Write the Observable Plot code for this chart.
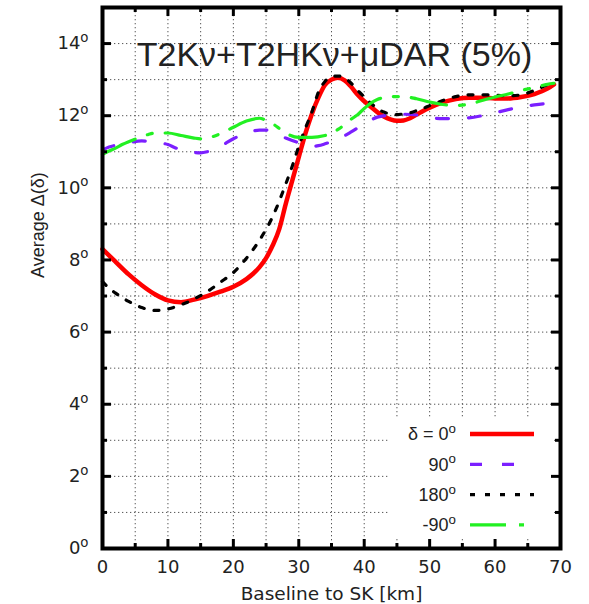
<!DOCTYPE html>
<html><head><meta charset="utf-8">
<script src="https://cdn.jsdelivr.net/npm/d3@7"></script>
<script src="https://cdn.jsdelivr.net/npm/@observablehq/plot@0.6"></script>
<style>
body{margin:0;background:#fff}
#chart svg{font-family:"Liberation Sans",Arial,sans-serif}
</style>
</head><body><div id="chart"></div>
<script>
// ---- data ----
const titleText = "T2Kν+T2HKν+μDAR (5%)";
const xLabel = "Baseline to SK [km]";
const yLabel = "Average Δ(δ)";
const xTicks = [0, 10, 20, 30, 40, 50, 60, 70];
const xMinor = [5, 15, 25, 35, 45, 55, 65];
const yTicks = [0, 2, 4, 6, 8, 10, 12, 14];
const yMinor = [1, 3, 5, 7, 9, 11, 13];
const xGrid = [5, 10, 15, 20, 25, 30, 35, 40, 45, 50, 55, 60, 65];
const yGrid = [1, 2, 3, 4, 5, 6, 7, 8, 9, 10, 11, 12, 13, 14];
const legendLabels = ["δ = 0", "90", "180", "-90"];

const redX = [0,2,4,6,8,10,12,14,16,18,20,22,24,25,26,27,28,29,30,31,32,33,34,35,36,37,38,39,40,41,42,43,44,45,46,47,48,49,50,52,54,56,58,60,62,64,66,68,69];
const redY = [8.3,7.95,7.6,7.3,7.05,6.88,6.83,6.9,7.0,7.12,7.26,7.47,7.8,8.05,8.4,8.85,9.55,10.2,10.85,11.5,12.05,12.5,12.85,13.0,13.05,12.98,12.8,12.58,12.4,12.25,12.1,11.98,11.9,11.86,11.87,11.93,12.03,12.13,12.22,12.37,12.46,12.5,12.5,12.48,12.48,12.52,12.6,12.75,12.87];

const blueX = [0,1,2,4,6,8,10,11,12,14,15,16,18,20,22,24,25,26,28,30,32,33,34,36,38,40,42,44,46,48,50,52,54,56,58,60,62,64,66,68,69];
const blueY = [11.05,11.13,11.18,11.25,11.3,11.26,11.2,11.12,11.05,10.98,10.97,11.0,11.15,11.36,11.52,11.6,11.6,11.55,11.38,11.25,11.15,11.17,11.22,11.35,11.55,11.78,11.96,12.02,12.04,12.02,11.95,11.92,11.92,11.94,12.0,12.08,12.17,12.24,12.3,12.34,12.35];

const blackX = [0,1,2,4,6,8,10,12,13,14,16,18,20,22,24,26,28,29,30,31,32,33,34,35,36,37,38,39,40,41,42,43,44,45,46,47,48,49,50,52,54,56,58,60,62,64,66,68,69];
const blackY = [7.4,7.22,7.08,6.85,6.68,6.6,6.64,6.76,6.83,6.92,7.12,7.38,7.65,8.05,8.55,9.2,10.1,10.6,11.15,11.65,12.1,12.65,12.95,13.08,13.1,13.05,12.9,12.7,12.52,12.35,12.2,12.1,12.05,12.03,12.05,12.08,12.14,12.2,12.28,12.42,12.53,12.58,12.58,12.57,12.55,12.58,12.7,12.86,12.93];

const greenX = [0,1,2,3,4,5,6,7,8,10,12,14,15,16,18,20,22,24,25,26,27,28,30,32,34,35,36,37,38,39,40,41,42,43,44,46,48,50,52,54,56,58,60,62,64,66,68,69];
const greenY = [10.93,11.02,11.1,11.2,11.28,11.35,11.42,11.48,11.52,11.52,11.45,11.38,11.36,11.38,11.5,11.68,11.85,11.93,11.87,11.78,11.65,11.52,11.4,11.4,11.45,11.5,11.62,11.75,11.9,12.03,12.2,12.35,12.45,12.5,12.53,12.53,12.47,12.38,12.31,12.28,12.32,12.42,12.52,12.6,12.7,12.78,12.87,12.9];

// ---- styles ----
const styles = [
  {stroke: "#ff0000", strokeWidth: 4.5, dash: null},
  {stroke: "#7b1fff", strokeWidth: 3.2, dash: "12,20"},
  {stroke: "#000000", strokeWidth: 3.2, dash: "5,10"},
  {stroke: "#22f022", strokeWidth: 3.2, dash: "36,13,5,13"}
];
const series = [[redX, redY], [blueX, blueY], [blackX, blackY], [greenX, greenY]];
const wideFont = "DejaVu Sans";

const W = 589, H = 604, mL = 102, mR = 29, mT = 7, mB = 56;
const fw = W - mL - mR, fh = H - mT - mB;

function legendMark(index, scales, values, dims) {
  const right = dims.width - dims.marginRight, bottom = dims.height - dims.marginBottom;
  const g = d3.create("svg:g").attr("aria-label", "legend");
  g.append("rect").attr("x", right - 172).attr("y", bottom - 130)
    .attr("width", 165).attr("height", 121).attr("fill", "white");
  legendLabels.forEach((lab, i) => {
    const y = bottom - 114 + i * 30.3;
    const s = styles[i];
    const t = g.append("text").attr("x", right - 104).attr("y", y)
      .attr("text-anchor", "end").attr("dy", "0.36em")
      .attr("font-size", 18).attr("fill", "#222");
    t.append("tspan").text(lab);
    t.append("tspan").attr("font-size", "0.74em").attr("dy", "-0.55em").text("o");
    g.append("line").attr("x1", right - 90).attr("x2", right - 26)
      .attr("y1", y).attr("y2", y)
      .attr("stroke", s.stroke).attr("stroke-width", s.strokeWidth)
      .attr("stroke-dasharray", s.dash);
  });
  return g.node();
}

const lineMarks = series.map(([xs, ys], i) => Plot.line(d3.zip(xs, ys), {
  x: d => d[0], y: d => d[1], curve: "monotone-x",
  stroke: styles[i].stroke, strokeWidth: styles[i].strokeWidth,
  strokeDasharray: styles[i].dash
}));

const chart = Plot.plot({
  width: W, height: H,
  marginLeft: mL, marginRight: mR, marginTop: mT, marginBottom: mB,
  x: {domain: [0, 70]},
  y: {domain: [0, 15]},
  style: {background: "white", color: "#222", overflow: "visible"},
  marks: [
    Plot.ruleX(xGrid, {stroke: "#555", strokeWidth: 1, strokeDasharray: "1.3,2.7"}),
    Plot.ruleY(yGrid, {stroke: "#555", strokeWidth: 1, strokeDasharray: "1.3,2.7"}),
    Plot.text([titleText], {text: d => d, frameAnchor: "top", lineAnchor: "top", dy: 34, dx: 3, fontSize: 34, fill: "#222", ariaLabel: "title"}),
    ...lineMarks,
    legendMark,
    // ticks (inward, mirrored)
    Plot.tickX(xTicks, {x: d => d, insetTop: fh - 9, stroke: "black", strokeWidth: 3}),
    Plot.tickX(xTicks, {x: d => d, insetBottom: fh - 9, stroke: "black", strokeWidth: 3}),
    Plot.tickX(xMinor, {x: d => d, insetTop: fh - 5, stroke: "black", strokeWidth: 3}),
    Plot.tickX(xMinor, {x: d => d, insetBottom: fh - 5, stroke: "black", strokeWidth: 3}),
    Plot.tickY(yTicks, {y: d => d, insetRight: fw - 9, stroke: "black", strokeWidth: 3}),
    Plot.tickY(yTicks, {y: d => d, insetLeft: fw - 9, stroke: "black", strokeWidth: 3}),
    Plot.tickY(yMinor, {y: d => d, insetRight: fw - 5, stroke: "black", strokeWidth: 3}),
    Plot.tickY(yMinor, {y: d => d, insetLeft: fw - 5, stroke: "black", strokeWidth: 3}),
    Plot.frame({stroke: "black", strokeWidth: 4}),
    Plot.axisX({ticks: xTicks, tickSize: 0, tickPadding: 12, fontSize: 18, fontFamily: wideFont, tickFormat: d => String(d), label: null}),
    Plot.axisY({ticks: yTicks, tickSize: 0, tickPadding: 14, fontSize: 18, fontFamily: wideFont, tickFormat: d => String(d), label: null}),
    Plot.text([xLabel], {text: d => d, frameAnchor: "bottom", lineAnchor: "bottom", dy: 51, fontSize: 18.5, fontFamily: wideFont, fill: "#222", ariaLabel: "xlabel"}),
    Plot.text([yLabel], {text: d => d, frameAnchor: "left", dx: -64, rotate: -90, fontSize: 18, fill: "#222", ariaLabel: "ylabel"})
  ]
});

document.getElementById("chart").appendChild(chart);

// superscript "o" on y tick labels
chart.querySelectorAll('[aria-label="y-axis tick label"] text').forEach(t => {
  const v = t.textContent;
  t.textContent = "";
  const a = document.createElementNS("http://www.w3.org/2000/svg", "tspan");
  a.textContent = v;
  const b = document.createElementNS("http://www.w3.org/2000/svg", "tspan");
  b.textContent = "o";
  b.setAttribute("font-size", "0.74em");
  b.setAttribute("dy", "-0.55em");
  t.appendChild(a); t.appendChild(b);
});
// white box behind the title
const tg = chart.querySelector('[aria-label="title"]');
if (tg) {
  const bb = tg.getBBox();
  const r = document.createElementNS("http://www.w3.org/2000/svg", "rect");
  r.setAttribute("x", bb.x - 7); r.setAttribute("y", bb.y + 1);
  r.setAttribute("width", bb.width + 14); r.setAttribute("height", bb.height - 2);
  r.setAttribute("fill", "white");
  tg.parentNode.insertBefore(r, tg);
}
</script>
</body></html>
